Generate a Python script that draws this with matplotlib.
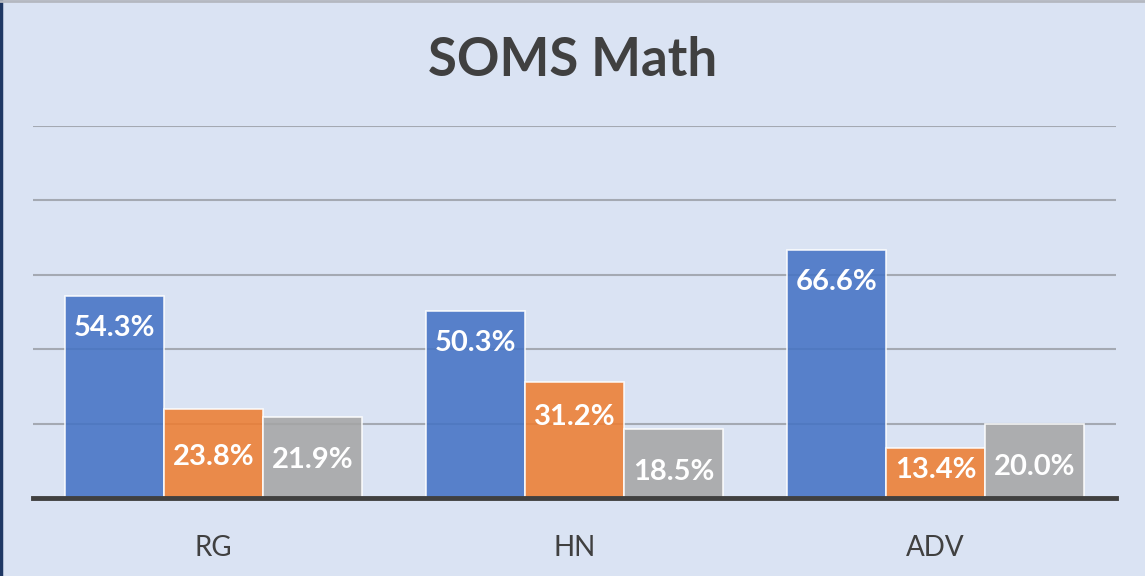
import matplotlib.pyplot as plt
import numpy as np
from matplotlib.lines import Line2D

categories = ['RG', 'HN', 'ADV']
series_a = [54.3, 50.3, 66.6]
series_b = [23.8, 31.2, 13.4]
series_c = [21.9, 18.5, 20.0]
labels_a = ['54.3%', '50.3%', '66.6%']
labels_b = ['23.8%', '31.2%', '13.4%']
labels_c = ['21.9%', '18.5%', '20.0%']

# label centre heights (in axis units)
label_y_a = [45.6, 41.8, 58.0]
label_y_b = [11.1, 21.8, 7.5]
label_y_c = [10.2, 7.0, 8.4]

bg = '#DAE3F3'
colors = ['#4472C4', '#ED7D31', '#A5A5A5']

plt.rcParams['font.family'] = ['Lato', 'DejaVu Sans']

fig = plt.figure(figsize=(11.45, 5.76), dpi=100, facecolor=bg)
ax = fig.add_axes([33 / 1145, 78 / 576, 1083 / 1145, 372 / 576])
ax.set_facecolor(bg)

x = np.arange(len(categories))
w = 0.275
all_vals = [series_a, series_b, series_c]
all_labels = [labels_a, labels_b, labels_c]
all_ly = [label_y_a, label_y_b, label_y_c]

for i in range(3):
    xs = x + (i - 1) * w
    ax.bar(xs, all_vals[i], width=w, color=colors[i], alpha=0.87,
           edgecolor=(1, 1, 1, 0.45), linewidth=1.2, zorder=3)
    for xx, lab, ly in zip(xs, all_labels[i], all_ly[i]):
        ax.text(xx, ly, lab, ha='center', va='center', color='white',
                fontsize=21, fontweight='bold', zorder=4)

ax.set_xlim(-0.5, 2.5)
ax.set_ylim(0, 100)
ax.set_yticks([20, 40, 60, 80, 100])
ax.yaxis.grid(True, color='#9EA3AB', linewidth=1.5, zorder=5, alpha=0.9)
ax.set_axisbelow(False)
ax.tick_params(axis='y', left=False, labelleft=False)
ax.tick_params(axis='x', bottom=False, labelsize=20, labelcolor='#404040', pad=23)
ax.set_xticks(x)
ax.set_xticklabels(categories)
for s in ['top', 'right', 'left']:
    ax.spines[s].set_visible(False)
ax.spines['bottom'].set_color('#404040')
ax.spines['bottom'].set_linewidth(3.5)
ax.spines['bottom'].set_zorder(6)

fig.text(0.5, 1 - 61 / 576, 'SOMS Math', ha='center', va='center',
         fontsize=38, fontweight='bold', color='#404040')

# frame edges
fig.add_artist(Line2D([1 / 1145, 1 / 1145], [0, 1], color='#1F3864', linewidth=2.5))
fig.add_artist(Line2D([0, 1], [1 - 1 / 576, 1 - 1 / 576], color='#B4B8C0', linewidth=2))

fig.savefig('out.png', dpi=100, facecolor=bg)
